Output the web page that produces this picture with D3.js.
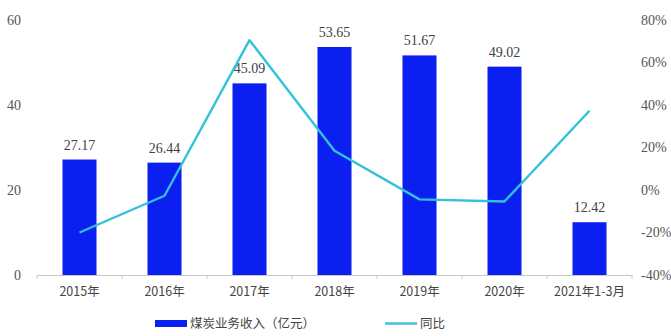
<!DOCTYPE html>
<html>
<head>
<meta charset="utf-8">
<script src="https://cdn.jsdelivr.net/npm/d3@7"></script>
<style>
  html, body { margin: 0; padding: 0; background: #fff; }
  svg { display: block; }
</style>
</head>
<body>
<svg id="chart" width="671" height="336"></svg>
<script>
// Coal business revenue (100 million yuan) and year-on-year growth (%)
const categories = ["2015年", "2016年", "2017年", "2018年", "2019年", "2020年", "2021年1-3月"];
const revenue = [27.17, 26.44, 45.09, 53.65, 51.67, 49.02, 12.42];
const growth = [-20.0, -2.7, 70.5, 18.5, -4.4, -5.4, 37.3];
const leftTicks = [0, 20, 40, 60];
const rightTicks = [-40, -20, 0, 20, 40, 60, 80];
const legendLabels = ["煤炭业务收入（亿元）", "同比"];

const barColor = "#0a1ff0";
const lineColor = "#33c1dc";
const serif = "'Liberation Serif', 'Times New Roman', serif";
const sans = "'Noto Sans CJK SC', 'Noto Sans', sans-serif";

const svg = d3.select("#chart");
const plotTop = 20, plotBottom = 275;

const x = d3.scaleBand().domain(categories).range([37, 632]).paddingInner(0.6).paddingOuter(0.3);
const yL = d3.scaleLinear().domain([0, 60]).range([plotBottom, plotTop]);
const yR = d3.scaleLinear().domain([-40, 80]).range([plotBottom, plotTop]);

// left axis labels
svg.append("g").selectAll("text").data(leftTicks).join("text")
  .attr("x", 21).attr("y", d => yL(d)).attr("dy", "0.35em")
  .attr("text-anchor", "end")
  .style("font-family", serif).style("font-size", "14px").style("fill", "#555")
  .text(d => d);

// right axis labels
svg.append("g").selectAll("text").data(rightTicks).join("text")
  .attr("x", 641).attr("y", d => yR(d)).attr("dy", "0.35em")
  .attr("text-anchor", "start")
  .style("font-family", serif).style("font-size", "14px").style("fill", "#555")
  .text(d => d + "%");

// bars
svg.append("g").selectAll("rect").data(revenue).join("rect")
  .attr("x", (d, i) => x(categories[i]))
  .attr("y", d => yL(d))
  .attr("width", x.bandwidth())
  .attr("height", d => yL(0) - yL(d))
  .attr("fill", barColor);

// value labels
svg.append("g").selectAll("text").data(revenue).join("text")
  .attr("x", (d, i) => x(categories[i]) + x.bandwidth() / 2)
  .attr("y", d => yL(d) - 10)
  .attr("text-anchor", "middle")
  .style("font-family", serif).style("font-size", "14px").style("fill", "#404040")
  .text(d => d.toFixed(2));

// x axis
const xAxis = d3.axisBottom(x).tickSize(0).tickFormat(d => d);
const gx = svg.append("g").attr("transform", `translate(0,${plotBottom})`).call(xAxis);
gx.select(".domain").attr("stroke", "#c8c8c8").attr("stroke-width", 1.2);
gx.selectAll(".tick text")
  .attr("dy", "1.45em")
  .style("font-family", sans).style("font-size", "12.5px").style("fill", "#444");
const step = x.step();
const boundaries = d3.range(categories.length + 1).map(i => 37 + i * step);
svg.append("g").selectAll("line").data(boundaries).join("line")
  .attr("x1", d => d).attr("x2", d => d)
  .attr("y1", plotBottom).attr("y2", plotBottom + 4)
  .attr("stroke", "#c8c8c8").attr("stroke-width", 1);

// growth line
const line = d3.line()
  .x((d, i) => x(categories[i]) + x.bandwidth() / 2)
  .y(d => yR(d));
svg.append("path").datum(growth)
  .attr("d", line)
  .attr("fill", "none")
  .attr("stroke", lineColor)
  .attr("stroke-width", 2.4)
  .attr("stroke-linejoin", "round");

// legend
const lg = svg.append("g");
lg.append("rect").attr("x", 155).attr("y", 320).attr("width", 32).attr("height", 7).attr("fill", barColor);
lg.append("text").attr("x", 190).attr("y", 323.5).attr("dy", "0.35em")
  .style("font-family", sans).style("font-size", "12.5px").style("fill", "#444")
  .text(legendLabels[0]);
lg.append("line").attr("x1", 385).attr("x2", 417).attr("y1", 323.5).attr("y2", 323.5)
  .attr("stroke", lineColor).attr("stroke-width", 2.4);
lg.append("text").attr("x", 420).attr("y", 323.5).attr("dy", "0.35em")
  .style("font-family", sans).style("font-size", "12.5px").style("fill", "#444")
  .text(legendLabels[1]);
</script>
</body>
</html>
